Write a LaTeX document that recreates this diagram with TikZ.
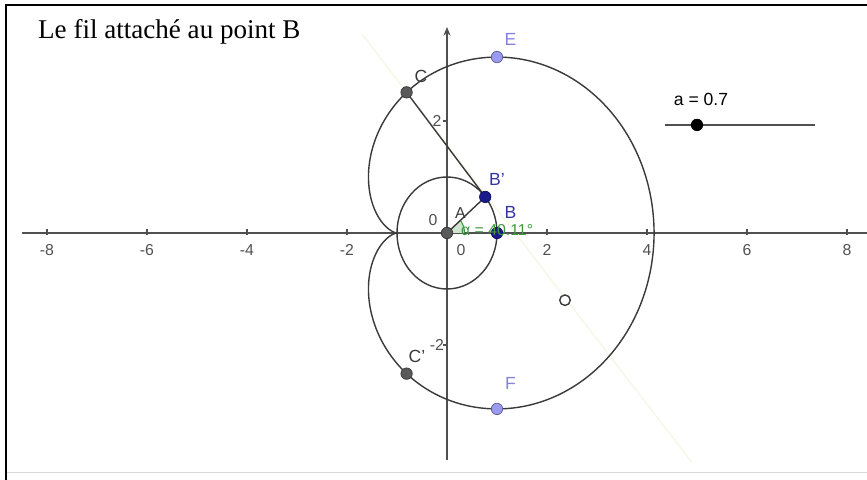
\documentclass[tikz,border=0pt]{standalone}
\usepackage{fontspec}
\setmainfont{Liberation Serif}
\setsansfont{Liberation Sans}
\usepackage{tikz}
\usepackage{xcolor}
\usetikzlibrary{arrows.meta}
\definecolor{curvegray}{HTML}{3A3A3A}
\definecolor{ptgray}{HTML}{5A5A5A}
\definecolor{axisgray}{HTML}{505050}
\definecolor{ptblue}{HTML}{1A1A8C}
\definecolor{lblblue}{HTML}{3535A5}
\definecolor{ptviolet}{HTML}{9A9AF0}
\definecolor{lblviolet}{HTML}{8282DC}
\definecolor{anglegreen}{HTML}{3C9A3C}
\definecolor{faintyellow}{HTML}{F8F8EA}

\begin{document}
\begin{tikzpicture}[x=1cm,y=1.12cm,
  font=\sffamily\fontsize{9}{10}\selectfont,
  curve/.style={draw=curvegray,line width=0.8pt},
  gpoint/.style={circle,inner sep=0pt,minimum size=6.5pt,draw=#1!60!black,fill=#1},
  tick/.style={axisgray,line width=0.7pt}]
  \useasboundingbox (-8.94,-4.4107) rectangle (8.4,4.1607);
  \pgfmathsetmacro{\a}{0.7}
  % frame
  \draw[black!15,line width=0.6pt] (-8.82,-4.27) -- (8.4,-4.27);
  \draw[black,line width=1.2pt] (-8.82,-4.4107) |- (8.4,4.07);
  % faint construction line
  \draw[faintyellow,line width=1pt] (-1.70,3.55) -- (4.9,-4.1);
  % axes
  \draw[axisgray,line width=0.9pt] (-8.5,0) -- (8.4,0);
  \draw[axisgray,line width=0.9pt,-{Stealth[length=5pt,width=4pt]}] (0,-4.05) -- (0,3.68);
  \foreach \x in {-8,-6,-4,-2,2,4,6,8} {
    \draw[tick] (\x,0.08) -- (\x,-0.04);
    \node[axisgray] at (\x,-0.3) {\x};
  }
  \node[axisgray] at (0.28,-0.3) {0};
  \node[axisgray] at (-0.28,0.23) {0};
  \foreach \y in {-2,2} \draw[tick] (-0.08,\y) -- (0,\y);
  \node[axisgray] at (-0.2,2) {2};
  \node[axisgray] at (-0.2,-2) {-2};
  % circle of centre A
  \draw[curve] (0,0) ellipse[x radius=1cm,y radius=1.12cm];
  % angle alpha
  \fill[anglegreen!25] (0,0) -- (0.35,0) arc[start angle=0,end angle=40.11,x radius=0.35cm,y radius=0.392cm] -- cycle;
  \draw[anglegreen,line width=0.6pt] (0.35,0) arc[start angle=0,end angle=40.11,x radius=0.35cm,y radius=0.392cm];
  % the wire: wound part and free part
  \draw[curve] plot[domain=0:pi,samples=120,variable=\t]
    ({cos(\t r)-(pi-\t)*sin(\t r)},{sin(\t r)+(pi-\t)*cos(\t r)});
  \draw[curve] plot[domain=0:pi,samples=120,variable=\t]
    ({cos(\t r)-(pi-\t)*sin(\t r)},{-sin(\t r)-(pi-\t)*cos(\t r)});
  \draw[curve] plot[domain=-90:90,samples=120,variable=\t]
    ({1+pi*cos(\t)},{pi*sin(\t)});
  % points
  \coordinate (Apos) at (0,0);
  \coordinate (Bppos) at ({cos(\a r)},{sin(\a r)});
  \coordinate (Cpos) at ({cos(\a r)-(pi-\a)*sin(\a r)},{sin(\a r)+(pi-\a)*cos(\a r)});
  \draw[curve] (Apos) -- (Bppos);
  \draw[curve] (Bppos) -- (Cpos);
  \node[gpoint=ptgray] (A) at (Apos) {};
  \node[gpoint=ptblue] (B) at (1,0) {};
  \node[gpoint=ptblue] (Bp) at (Bppos) {};
  \node[gpoint=ptgray] (C) at (Cpos) {};
  \node[gpoint=ptgray] (Cp) at ({cos(\a r)-(pi-\a)*sin(\a r)},{-sin(\a r)-(pi-\a)*cos(\a r)}) {};
  \node[gpoint=ptviolet] (E) at (1,pi) {};
  \node[gpoint=ptviolet] (F) at (1,-pi) {};
  \node[circle,inner sep=0pt,minimum size=6pt,draw=curvegray,line width=0.8pt,fill=white] (O) at (2.36,-1.2) {};
  % labels
  \node[curvegray] at (0.27,0.36) {A};
  \node[lblblue,font=\sffamily\fontsize{10}{12}\selectfont] at (1.27,0.36) {B};
  \node[lblblue,font=\sffamily\fontsize{10}{12}\selectfont] at (1.0,0.96) {B'};
  \node[curvegray,font=\sffamily\fontsize{10}{12}\selectfont] at (-0.52,2.8) {C};
  \node[curvegray,font=\sffamily\fontsize{10}{12}\selectfont] at (-0.6,-2.2) {C'};
  \node[lblviolet,font=\sffamily\fontsize{10}{12}\selectfont] at (1.27,3.46) {E};
  \node[lblviolet,font=\sffamily\fontsize{10}{12}\selectfont] at (1.27,-2.68) {F};
  \node[anglegreen,anchor=west] at (0.16,0.06) {α = 40.11°};
  % slider a
  \draw[axisgray,line width=1pt] (4.36,1.93) -- (7.36,1.93);
  \node[circle,inner sep=0pt,minimum size=7pt,fill=black] (slider) at (5.0,1.93) {};
  \node[black,font=\sffamily\fontsize{10}{12}\selectfont] at (5.08,2.38) {a = 0.7};
  % title
  \node[anchor=west,font=\rmfamily\fontsize{15.4}{18}\selectfont] (title) at (-8.3,3.6) {Le fil attaché au point B};
\end{tikzpicture}
\end{document}
